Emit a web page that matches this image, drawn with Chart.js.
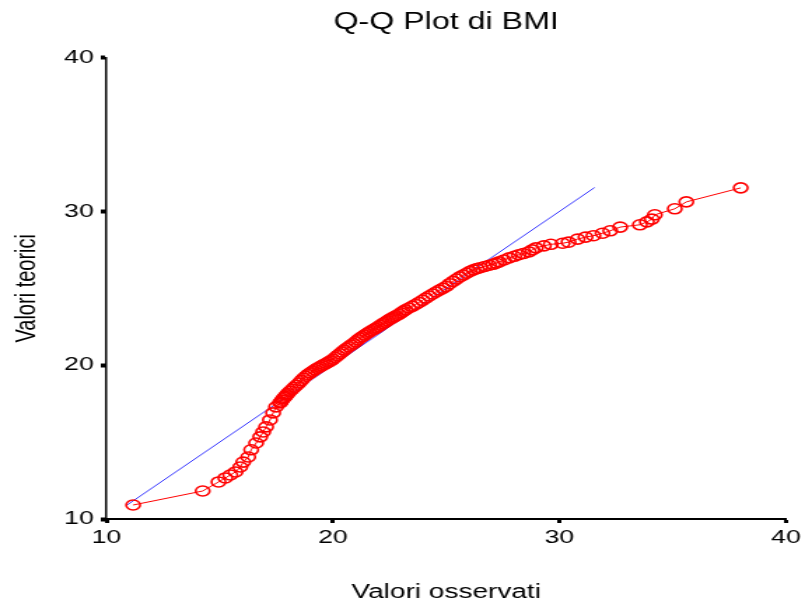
<!DOCTYPE html>
<html>
<head>
<meta charset="utf-8">
<title>Q-Q Plot di BMI</title>
<script src="https://cdn.jsdelivr.net/npm/chart.js@4/dist/chart.umd.min.js"></script>
<style>
  html, body { margin: 0; padding: 0; background: #fff; }
  /* the original picture is stretched sideways, so draw narrow and widen */
  #wrap { width: 575px; height: 607px; transform: scaleX(1.4); transform-origin: 0 0; }
</style>
</head>
<body>
<div id="wrap"><canvas id="qqChart" width="575" height="607"></canvas></div>
<script>
// BMI observed quantiles (x) and expected normal quantiles (y)
const observed = [
  11.18, 14.25, 14.95, 15.25, 15.47, 15.7, 15.91, 16.04, 16.26, 16.39,
  16.61, 16.79, 16.92, 17.05, 17.22, 17.36, 17.49, 17.66, 17.7, 17.75,
  17.8, 17.85, 17.9, 17.95, 18.0, 18.1, 18.2, 18.3, 18.4, 18.5,
  18.6, 18.7, 18.8, 18.9, 19.0, 19.1, 19.2, 19.3, 19.4, 19.5,
  19.6, 19.7, 19.8, 19.9, 20.0, 20.1, 20.2, 20.3, 20.4, 20.5,
  20.6, 20.7, 20.8, 20.9, 21.0, 21.1, 21.2, 21.3, 21.4, 21.5,
  21.6, 21.7, 21.8, 21.9, 22.0, 22.1, 22.2, 22.3, 22.4, 22.5,
  22.6, 22.7, 22.8, 22.9, 23.0, 23.1, 23.2, 23.35, 23.5, 23.65,
  23.8, 23.95, 24.1, 24.25, 24.4, 24.55, 24.7, 24.85, 25.0, 25.15,
  25.3, 25.45, 25.6, 25.75, 25.9, 26.05, 26.2, 26.35, 26.5, 26.7,
  26.9, 27.07, 27.2, 27.34, 27.55, 27.78, 28.0, 28.2, 28.4, 28.65,
  28.8, 28.96, 29.31, 29.62, 30.14, 30.4, 30.8, 31.15, 31.5, 31.9,
  32.24, 32.68, 33.55, 33.86, 34.08, 34.21, 35.09, 35.6, 38.0
];
const theoretical = [
  10.91, 11.82, 12.41, 12.67, 12.86, 13.06, 13.38, 13.7, 14.03, 14.5,
  14.94, 15.34, 15.66, 15.99, 16.44, 16.9, 17.29, 17.55, 17.6, 17.72,
  17.82, 17.9, 17.98, 18.06, 18.15, 18.3, 18.43, 18.57, 18.7, 18.84,
  19.0, 19.15, 19.28, 19.4, 19.5, 19.6, 19.7, 19.8, 19.88, 19.96,
  20.04, 20.12, 20.2, 20.28, 20.38, 20.5, 20.62, 20.74, 20.86, 20.98,
  21.1, 21.2, 21.3, 21.4, 21.52, 21.65, 21.77, 21.86, 21.96, 22.06,
  22.15, 22.24, 22.33, 22.41, 22.5, 22.6, 22.7, 22.79, 22.88, 22.98,
  23.06, 23.14, 23.22, 23.3, 23.4, 23.5, 23.6, 23.72, 23.83, 23.95,
  24.08, 24.22, 24.36, 24.5, 24.63, 24.76, 24.88, 25.0, 25.12, 25.3,
  25.45, 25.6, 25.74, 25.86, 25.98, 26.1, 26.2, 26.28, 26.34, 26.42,
  26.5, 26.56, 26.64, 26.72, 26.84, 26.98, 27.08, 27.18, 27.26, 27.37,
  27.5, 27.63, 27.76, 27.86, 27.93, 28.0, 28.2, 28.33, 28.42, 28.58,
  28.74, 28.98, 29.13, 29.32, 29.5, 29.78, 30.17, 30.62, 31.53
];

// reference line y = x over the range of expected values
const refX = [10.9, 31.55];
const refY = [10.9, 31.55];

const fontFamily = "'Liberation Sans', Arial, sans-serif";

const qqPoints = observed.map((x, i) => ({ x, y: theoretical[i] }));
const refPoints = refX.map((x, i) => ({ x, y: refY[i] }));

new Chart(document.getElementById("qqChart"), {
  type: "scatter",
  data: {
    datasets: [
      {
        label: "BMI",
        data: qqPoints,
        showLine: true,
        borderColor: "#ff0000",
        borderWidth: 1,
        pointStyle: "circle",
        pointRadius: 5,
        pointBorderWidth: 1.6,
        pointBorderColor: "#ff0000",
        pointBackgroundColor: "rgba(0,0,0,0)",
        pointHoverRadius: 5
      },
      {
        label: "Riferimento",
        data: refPoints,
        showLine: true,
        borderColor: "#3535ff",
        borderWidth: 1,
        pointRadius: 0,
        pointHoverRadius: 0
      }
    ]
  },
  options: {
    responsive: false,
    animation: false,
    devicePixelRatio: 1,
    layout: { padding: { left: 0, right: 11, top: 0, bottom: 0 } },
    plugins: {
      legend: { display: false },
      tooltip: { enabled: false },
      title: {
        display: true,
        text: "Q-Q Plot di BMI",
        fullSize: false,
        color: "#000",
        font: { family: fontFamily, size: 23, weight: "normal" },
        padding: { top: 9, bottom: 21 }
      }
    },
    scales: {
      x: {
        type: "linear",
        min: 10,
        max: 40,
        afterFit: (scale) => { scale.height = 88; },
        border: { display: true, color: "#000", width: 2 },
        grid: {
          display: true,
          drawOnChartArea: false,
          drawTicks: true,
          tickLength: 4,
          tickWidth: 3,
          tickColor: "#000"
        },
        ticks: {
          stepSize: 10,
          padding: 3,
          color: "#000",
          font: { family: fontFamily, size: 19 }
        },
        title: {
          display: true,
          text: "Valori osservati",
          color: "#000",
          font: { family: fontFamily, size: 20 },
          padding: { top: 0, bottom: 3 }
        }
      },
      y: {
        type: "linear",
        min: 10,
        max: 40,
        afterFit: (scale) => { scale.width = 76; },
        border: { display: true, color: "#000", width: 1.5 },
        grid: {
          display: true,
          drawOnChartArea: false,
          drawTicks: true,
          tickLength: 4,
          tickWidth: 4,
          tickColor: "#000"
        },
        ticks: {
          stepSize: 10,
          padding: 5,
          color: "#000",
          font: { family: fontFamily, size: 19 }
        },
        title: {
          display: true,
          text: "Valori teorici",
          color: "#000",
          font: { family: fontFamily, size: 20 },
          padding: { top: 7, bottom: 0 }
        }
      }
    }
  }
});
</script>
</body>
</html>
